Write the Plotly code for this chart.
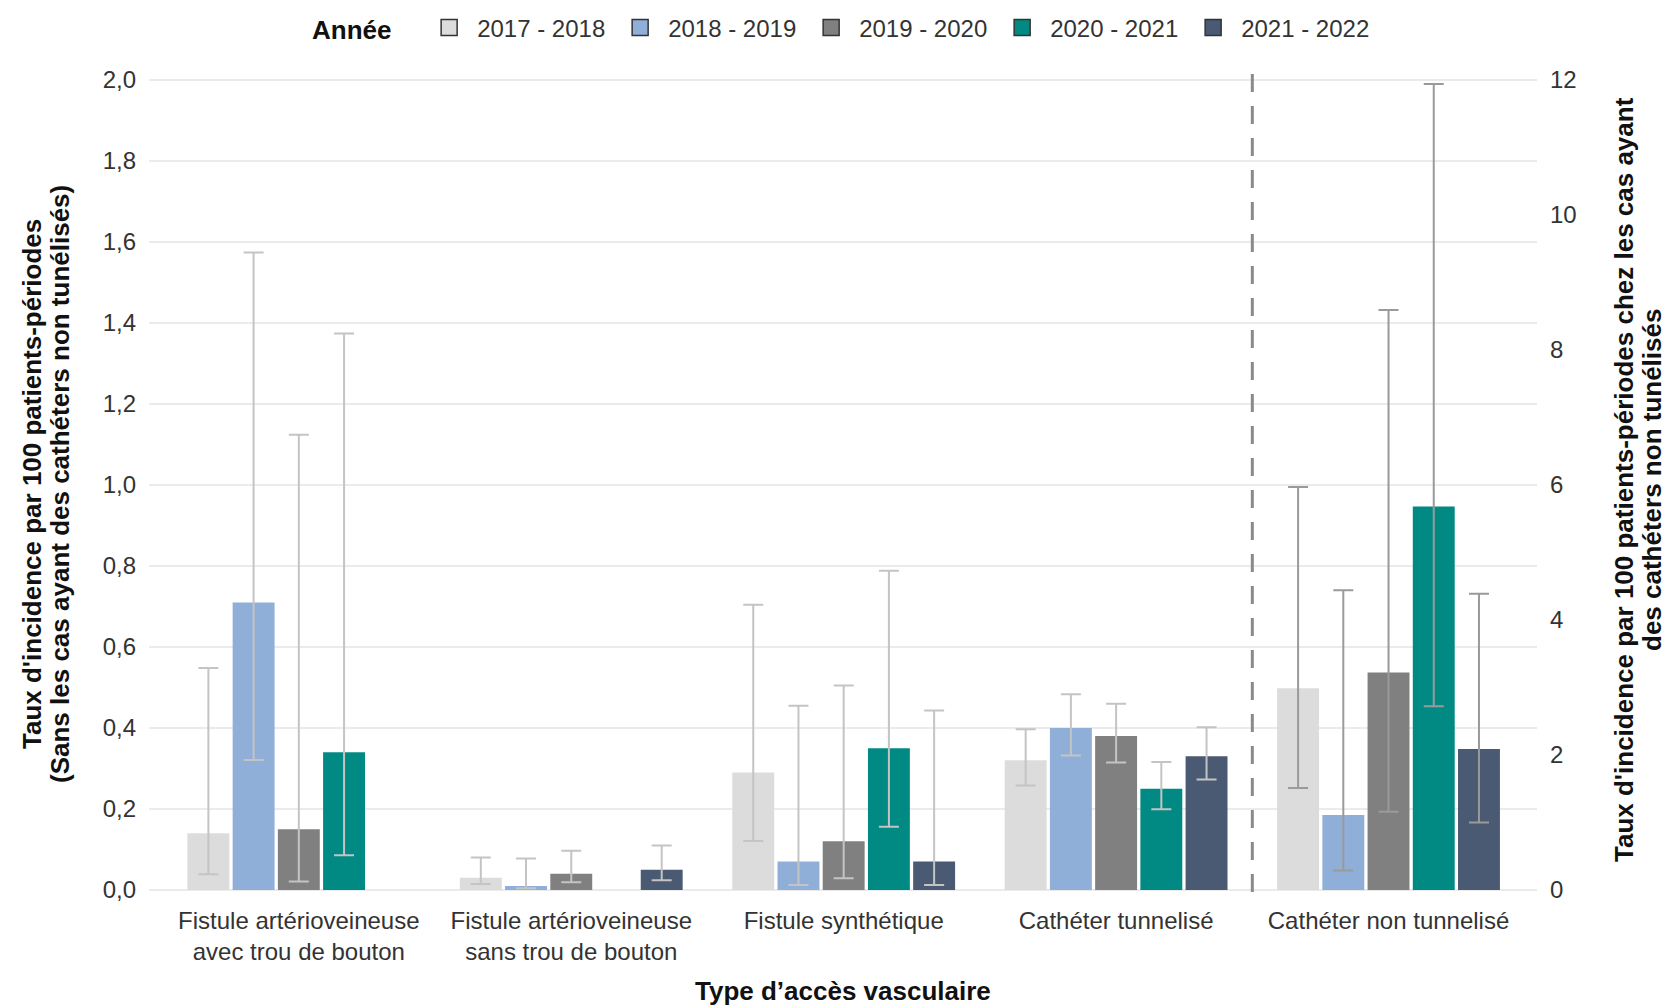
import plotly.graph_objects as go

# Vascular access types (x categories) and their displayed tick labels
categories = [
    "Fistule artérioveineuse avec trou de bouton",
    "Fistule artérioveineuse sans trou de bouton",
    "Fistule synthétique",
    "Cathéter tunnelisé",
    "Cathéter non tunnelisé",
]
tick_labels = [
    "Fistule artérioveineuse<br>avec trou de bouton",
    "Fistule artérioveineuse<br>sans trou de bouton",
    "Fistule synthétique",
    "Cathéter tunnelisé",
    "Cathéter non tunnelisé",
]
years = ["2017 - 2018", "2018 - 2019", "2019 - 2020", "2020 - 2021", "2021 - 2022"]
colors = ["#DCDCDC", "#8FAFD9", "#808080", "#008A83", "#4A5A72"]

# Rates per 100 patient-periods, first four access types (left axis)
rate_left = {
    "2017 - 2018": [0.14, 0.03, 0.29, 0.32],
    "2018 - 2019": [0.71, 0.01, 0.07, 0.40],
    "2019 - 2020": [0.15, 0.04, 0.12, 0.38],
    "2020 - 2021": [0.34, None, 0.35, 0.25],
    "2021 - 2022": [None, 0.05, 0.07, 0.33],
}
low_left = {
    "2017 - 2018": [0.039, 0.015, 0.121, 0.258],
    "2018 - 2019": [0.321, 0.004, 0.012, 0.332],
    "2019 - 2020": [0.021, 0.019, 0.029, 0.315],
    "2020 - 2021": [0.086, None, 0.156, 0.199],
    "2021 - 2022": [None, 0.024, 0.012, 0.273],
}
high_left = {
    "2017 - 2018": [0.548, 0.080, 0.704, 0.397],
    "2018 - 2019": [1.574, 0.078, 0.455, 0.483],
    "2019 - 2020": [1.124, 0.097, 0.505, 0.460],
    "2020 - 2021": [1.374, None, 0.788, 0.316],
    "2021 - 2022": [None, 0.110, 0.443, 0.402],
}

# Non-tunnelled catheters (right axis)
rate_right = [2.99, 1.11, 3.22, 5.68, 2.09]
low_right = [1.51, 0.29, 1.16, 2.72, 1.00]
high_right = [5.97, 4.44, 8.59, 11.94, 4.39]

FONT = "Liberation Sans, Arial, sans-serif"
TXT = "#333333"
TITLE = "#111111"
W, H = 1668, 1008
ML, MR, MT, MB = 149, 131, 71, 116
PW, PH = W - ML - MR, H - MT - MB


def err(vals, lo, hi):
    plus = [None if v is None else h - v for v, h in zip(vals, hi)]
    minus = [None if v is None else v - l for v, l in zip(vals, lo)]
    return plus, minus


fig = go.Figure()

for i, yr in enumerate(years):
    plus, minus = err(rate_left[yr], low_left[yr], high_left[yr])
    fig.add_trace(go.Bar(
        x=categories[:4], y=rate_left[yr], name=yr,
        marker=dict(color=colors[i], line=dict(width=0)),
        error_y=dict(type="data", symmetric=False, array=plus, arrayminus=minus,
                     color="#C4C4C4", thickness=2, width=10),
        showlegend=False, yaxis="y",
    ))

for i, yr in enumerate(years):
    fig.add_trace(go.Bar(
        x=[categories[4]], y=[rate_right[i]], name=yr,
        marker=dict(color=colors[i], line=dict(width=0)),
        error_y=dict(type="data", symmetric=False,
                     array=[high_right[i] - rate_right[i]],
                     arrayminus=[rate_right[i] - low_right[i]],
                     color="#9A9A9A", thickness=2, width=10),
        showlegend=False, yaxis="y2",
    ))

# legend entries (outlined squares)
for i, yr in enumerate(years):
    fig.add_trace(go.Scatter(
        x=[None], y=[None], mode="markers", name=yr,
        marker=dict(symbol="square", size=16, color=colors[i],
                    line=dict(color="#333333", width=1.5)),
        showlegend=True, yaxis="y",
    ))

left_range = [-0.005, 2.022]
right_range = [v * 6 for v in left_range]

fig.update_layout(
    width=W, height=H,
    margin=dict(l=ML, r=MR, t=MT, b=MB, autoexpand=False),
    paper_bgcolor="white", plot_bgcolor="white",
    separators=", ",
    font=dict(family=FONT, size=24, color=TXT),
    barmode="group", bargap=0.17, bargroupgap=0.073,
    xaxis=dict(
        categoryorder="array", categoryarray=categories,
        tickmode="array", tickvals=categories, ticktext=tick_labels,
        range=[-0.55, 4.545], showgrid=False, zeroline=False, showline=False,
        ticks="", tickfont=dict(size=24, color=TXT), ticklabelstandoff=12,
    ),
    yaxis=dict(
        range=left_range, tickvals=[0, 0.2, 0.4, 0.6, 0.8, 1.0, 1.2, 1.4, 1.6, 1.8, 2.0],
        tickformat=".1f", showgrid=True, gridcolor="#EBEBEB", gridwidth=1.8,
        zeroline=False, showline=False, ticks="", ticklabelstandoff=12,
        tickfont=dict(size=24, color=TXT),
    ),
    yaxis2=dict(
        overlaying="y", side="right", range=right_range,
        tickvals=[0, 2, 4, 6, 8, 10, 12], showgrid=False, zeroline=False,
        showline=False, ticks="", ticklabelstandoff=12,
        tickfont=dict(size=24, color=TXT),
    ),
    legend=dict(
        orientation="h", xref="container", yref="container",
        x=310 / W, xanchor="left", y=1 - 28 / H, yanchor="middle",
        title=dict(text="<b>Année</b>\u00a0\u00a0\u00a0", side="left",
                   font=dict(size=26, color=TITLE)),
        font=dict(size=24, color=TXT), itemwidth=46, entrywidth=130,
        bgcolor="rgba(0,0,0,0)",
    ),
    showlegend=True,
)

# dashed separator before the non-tunnelled catheter group
fig.add_shape(type="line", xref="x", yref="paper", x0=3.5, x1=3.5, y0=0, y1=1,
              line=dict(color="#8A8A8A", width=3, dash="18px,14px"), layer="above")


def px_x(p):
    return (p - ML) / PW


def px_y(p):
    return (H - MB - p) / PH


# axis titles, one annotation per line
title_lines = [
    ("Taux d'incidence par 100 patients-périodes", 32, 484),
    ("(Sans les cas ayant des cathéters non tunélisés)", 60, 484),
    ("Taux d'incidence par 100 patients-périodes chez les cas ayant", 1624, 480),
    ("des cathéters non tunélisés", 1652, 480),
]
for text, xp, yp in title_lines:
    fig.add_annotation(
        xref="paper", yref="paper", x=px_x(xp), y=px_y(yp),
        text=f"<b>{text}</b>", textangle=-90, showarrow=False,
        xanchor="center", yanchor="middle", font=dict(size=26, color=TITLE),
    )

fig.add_annotation(
    xref="paper", yref="paper", x=0.5, y=px_y(991),
    text="<b>Type d’accès vasculaire</b>", showarrow=False,
    xanchor="center", yanchor="middle", font=dict(size=26, color=TITLE),
)

fig.write_html("out.html")
